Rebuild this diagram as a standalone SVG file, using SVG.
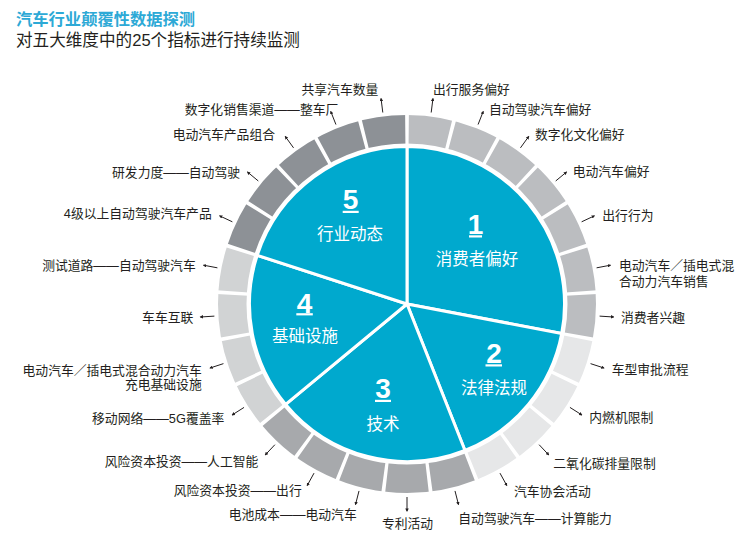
<svg xmlns="http://www.w3.org/2000/svg" width="748" height="547" viewBox="0 0 748 547" lang="zh-CN" xml:lang="zh-CN">
<defs>
<style>
.t{font-family:"Liberation Sans","Noto Sans CJK SC",sans-serif;font-size:12.8px;fill:#231F20}
.e{text-anchor:end}
.m{text-anchor:middle}
.pl{font-family:"Noto Sans CJK SC","Liberation Sans",sans-serif;font-size:16.5px;fill:#fff;text-anchor:middle}
.num{font-family:"Liberation Sans","Noto Sans",sans-serif;font-size:28px;font-weight:bold;fill:#fff;text-anchor:middle}
.ring{fill:none;stroke-width:28.5}
.sec{fill:#00A9CE;stroke:#fff;stroke-width:3;stroke-linejoin:round}
.ld{stroke:#231F20;stroke-width:1;fill:none;marker-end:url(#ah)}
</style>
<marker id="ah" viewBox="0 0 4 4" refX="3" refY="2" markerWidth="3.5" markerHeight="3.5" markerUnits="userSpaceOnUse" orient="auto">
<path d="M0,0 L4,2 L0,4 z" fill="#231F20"/>
</marker>
</defs>
<rect width="748" height="547" fill="#fff"/>
<text font-family="Liberation Sans, Noto Sans CJK SC, sans-serif"><tspan x="16" y="24.5" font-size="16.3" font-weight="bold" fill="#2DA9D6">汽车行业颠覆性数据探测</tspan><tspan x="16" y="46" font-size="16.6" fill="#231F20">对五大维度中的25个指标进行持续监测</tspan></text>

<g id="ring" transform="rotate(-90 407 304)">
<circle class="ring" cx="407" cy="304" r="174.75" pathLength="25" stroke="#BBBDC0" stroke-dasharray="7 18"/>
<circle class="ring" cx="407" cy="304" r="174.75" pathLength="25" stroke="#E6E7E8" stroke-dasharray="4 21" stroke-dashoffset="-7"/>
<circle class="ring" cx="407" cy="304" r="174.75" pathLength="25" stroke="#A7A9AC" stroke-dasharray="5 20" stroke-dashoffset="-11"/>
<circle class="ring" cx="407" cy="304" r="174.75" pathLength="25" stroke="#D1D3D4" stroke-dasharray="4 21" stroke-dashoffset="-16"/>
<circle class="ring" cx="407" cy="304" r="174.75" pathLength="25" stroke="#8D9196" stroke-dasharray="5 20" stroke-dashoffset="-20"/>
<circle cx="407" cy="304" r="174.75" pathLength="25" fill="none" stroke="#fff" stroke-width="32" stroke-dasharray="0.08 0.92" stroke-dashoffset="0.04"/>
</g>

<g id="cat1">
<path class="sec" d="M407,304 L407,146.5 A157.5,157.5 0 0 1 561.71,333.51 Z"/>
<text class="num" x="475.5" y="234">1</text>
<rect x="469" y="235.3" width="13" height="2.2" fill="#fff"/>
<text class="pl" x="477" y="264.5">消费者偏好</text>
</g>
<g id="cat2">
<path class="sec" d="M407,304 L561.71,333.51 A157.5,157.5 0 0 1 464.98,450.44 Z"/>
<text class="num" x="494" y="362.7">2</text>
<rect x="485.5" y="364.3" width="16.5" height="2.2" fill="#fff"/>
<text class="pl" x="494" y="393.5">法律法规</text>
</g>
<g id="cat3">
<path class="sec" d="M407,304 L464.98,450.44 A157.5,157.5 0 0 1 285.64,404.39 Z"/>
<text class="num" x="383" y="398.3">3</text>
<rect x="375" y="399.8" width="16" height="2.2" fill="#fff"/>
<text class="pl" x="383" y="430">技术</text>
</g>
<g id="cat4">
<path class="sec" d="M407,304 L285.64,404.39 A157.5,157.5 0 0 1 257.21,255.33 Z"/>
<text class="num" x="304.5" y="312.7">4</text>
<rect x="296.3" y="313.2" width="16.5" height="2.2" fill="#fff"/>
<text class="pl" x="305" y="342">基础设施</text>
</g>
<g id="cat5">
<path class="sec" d="M407,304 L257.21,255.33 A157.5,157.5 0 0 1 407,146.5 Z"/>
<text class="num" x="350.5" y="209.3">5</text>
<rect x="342.7" y="210.8" width="16" height="2.2" fill="#fff"/>
<text class="pl" x="350" y="239.5">行业动态</text>
</g>

<g id="connectors">
<line class="ld" x1="431.19" y1="112.52" x2="432.94" y2="98.63"/>
<line class="ld" x1="478.05" y1="124.55" x2="483.20" y2="111.54"/>
<line class="ld" x1="520.44" y1="147.86" x2="528.67" y2="136.53"/>
<line class="ld" x1="555.71" y1="180.98" x2="566.50" y2="172.05"/>
<line class="ld" x1="581.63" y1="221.82" x2="594.30" y2="215.86"/>
<line class="ld" x1="596.58" y1="267.84" x2="610.33" y2="265.21"/>
<line class="ld" x1="599.62" y1="316.12" x2="613.59" y2="317.00"/>
<line class="ld" x1="590.55" y1="363.64" x2="603.87" y2="367.97"/>
<line class="ld" x1="569.96" y1="407.42" x2="581.78" y2="414.92"/>
<line class="ld" x1="539.12" y1="444.69" x2="548.70" y2="454.90"/>
<line class="ld" x1="499.98" y1="473.13" x2="506.72" y2="485.40"/>
<line class="ld" x1="455.00" y1="490.94" x2="458.48" y2="504.50"/>
<line class="ld" x1="407" y1="497" x2="407" y2="511"/>
<line class="ld" x1="359.00" y1="490.94" x2="355.52" y2="504.50"/>
<line class="ld" x1="314.02" y1="473.13" x2="307.28" y2="485.40"/>
<line class="ld" x1="274.88" y1="444.69" x2="265.30" y2="454.90"/>
<line class="ld" x1="244.04" y1="407.42" x2="232.22" y2="414.92"/>
<line class="ld" x1="223.45" y1="363.64" x2="210.13" y2="367.97"/>
<line class="ld" x1="214.38" y1="316.12" x2="200.41" y2="317.00"/>
<line class="ld" x1="217.42" y1="267.84" x2="203.67" y2="265.21"/>
<line class="ld" x1="232.37" y1="221.82" x2="219.70" y2="215.86"/>
<line class="ld" x1="258.29" y1="180.98" x2="247.50" y2="172.05"/>
<line class="ld" x1="293.56" y1="147.86" x2="285.33" y2="136.53"/>
<line class="ld" x1="335.95" y1="124.55" x2="330.80" y2="111.54"/>
<line class="ld" x1="382.81" y1="112.52" x2="381.06" y2="98.63"/>
</g>

<g id="labels">
<g id="l0"><text class="t" x="433" y="93.5">出行服务偏好</text></g>
<g id="l1"><text class="t" x="489" y="114.2">自动驾驶汽车偏好</text></g>
<g id="l2"><text class="t" x="535" y="138.7">数字化文化偏好</text></g>
<g id="l3"><text class="t" x="572.7" y="175.5">电动汽车偏好</text></g>
<g id="l4"><text class="t" x="602.3" y="220">出行行为</text></g>
<g id="l5"><text class="t"><tspan x="619" y="270">电动汽车／插电式混</tspan><tspan x="619" y="285.7">合动力汽车销售</tspan></text></g>
<g id="l6"><text class="t" x="621" y="321.7">消费者兴趣</text></g>
<g id="l7"><text class="t" x="611.7" y="374.3">车型审批流程</text></g>
<g id="l8"><text class="t" x="589.3" y="422.3">内燃机限制</text></g>
<g id="l9"><text class="t" x="553.3" y="468.3">二氧化碳排量限制</text></g>
<g id="l10"><text class="t" x="514" y="495.7">汽车协会活动</text></g>
<g id="l11"><text class="t" x="458.3" y="523.3">自动驾驶汽车——计算能力</text></g>
<g id="l12"><text class="t m" x="407.5" y="528.3">专利活动</text></g>
<g id="l13"><text class="t e" x="356.7" y="519.3">电池成本——电动汽车</text></g>
<g id="l14"><text class="t e" x="301.7" y="495">风险资本投资——出行</text></g>
<g id="l15"><text class="t e" x="258.3" y="466">风险资本投资——人工智能</text></g>
<g id="l16"><text class="t e" x="224.3" y="423.3">移动网络——5G覆盖率</text></g>
<g id="l17"><text class="t e"><tspan x="201.7" y="375">电动汽车／插电式混合动力汽车</tspan><tspan x="201.7" y="389.3">充电基础设施</tspan></text></g>
<g id="l18"><text class="t e" x="193.3" y="321.7">车车互联</text></g>
<g id="l19"><text class="t e" x="195.7" y="270">测试道路——自动驾驶汽车</text></g>
<g id="l20"><text class="t e" x="211.7" y="218.3">4级以上自动驾驶汽车产品</text></g>
<g id="l21"><text class="t e" x="240" y="176.5">研发力度——自动驾驶</text></g>
<g id="l22"><text class="t e" x="275" y="138.5">电动汽车产品组合</text></g>
<g id="l23"><text class="t e" x="338.3" y="114">数字化销售渠道——整车厂</text></g>
<g id="l24"><text class="t e" x="378.3" y="93.5">共享汽车数量</text></g>
</g>
</svg>
